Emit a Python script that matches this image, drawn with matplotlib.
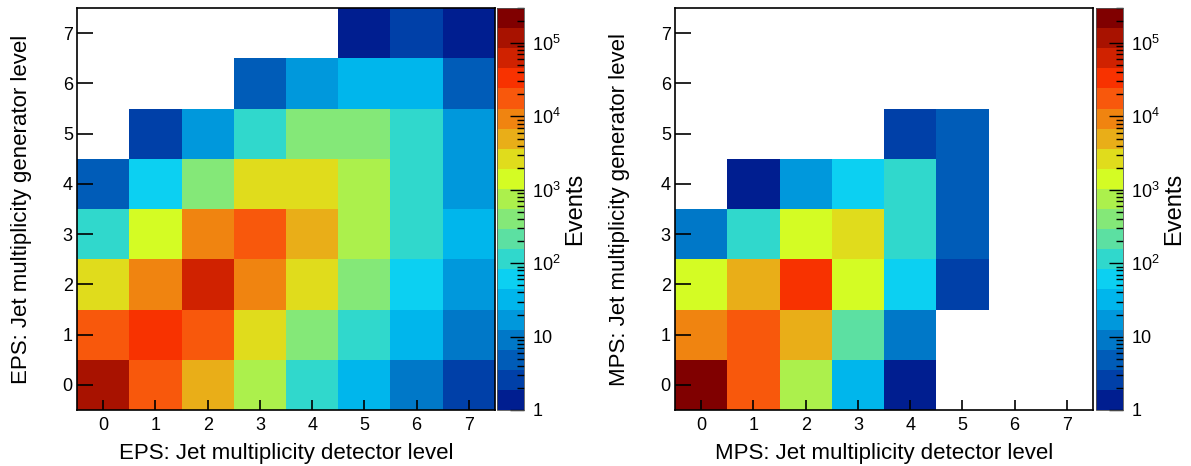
import numpy as np
import matplotlib
matplotlib.use("Agg")
import matplotlib.pyplot as plt
from matplotlib.colors import ListedColormap, LogNorm
from matplotlib.ticker import LogLocator

plt.rcParams['font.family'] = ['Liberation Sans', 'DejaVu Sans']
plt.rcParams['mathtext.fontset'] = 'custom'
plt.rcParams['mathtext.rm'] = 'Liberation Sans'
plt.rcParams['mathtext.it'] = 'Liberation Sans'

# jet multiplicity bins (detector level on x, generator level on y)
n_jets = [0, 1, 2, 3, 4, 5, 6, 7]

# events per cell, rows = generator level 0..7, cols = detector level 0..7
# nan = empty bin
eps_events = [
    [116000, 17500, 4970, 750, 113, 32, 9.1, 2.6],
    [17500, 33000, 17500, 2645, 399, 113, 32, 9.1],
    [2645, 9330, 61800, 9330, 2645, 399, 60, 17],
    [113, 1408, 9330, 17500, 4970, 750, 113, 32],
    [4.8, 60, 399, 2645, 2645, 750, 113, 17],
    [np.nan, 2.6, 17, 113, 399, 399, 113, 17],
    [np.nan, np.nan, np.nan, 4.8, 17, 32, 32, 4.8],
    [np.nan, np.nan, np.nan, np.nan, np.nan, 1.4, 2.6, 1.4],
]
mps_events = [
    [218000, 17500, 750, 32, 1.4, np.nan, np.nan, np.nan],
    [9330, 17500, 4970, 212, 9.1, np.nan, np.nan, np.nan],
    [1408, 4970, 33000, 1408, 60, 2.6, np.nan, np.nan],
    [9.1, 113, 1408, 2645, 113, 4.8, np.nan, np.nan],
    [np.nan, 1.4, 17, 60, 113, 4.8, np.nan, np.nan],
    [np.nan, np.nan, np.nan, np.nan, 2.6, 4.8, np.nan, np.nan],
    [np.nan] * 8,
    [np.nan] * 8,
]

z_min = 1
z_max = 3.0e5
cb_ticks = [1, 10, 1e2, 1e3, 1e4, 1e5]
cb_labels = ['1', '10', '$10^{2}$', '$10^{3}$', '$10^{4}$', '$10^{5}$']

# 20 contour colours, ROOT-like rainbow
palette = ['#001e90', '#0040a8', '#005cb8', '#0078c8', '#0098dc',
           '#00b6ec', '#0cd0f2', '#30d8cc', '#5ce0a2', '#84e878',
           '#acf04c', '#d4fc24', '#e0dc1c', '#e9ae18', '#f08410',
           '#f8580c', '#f83200', '#d02200', '#a81200', '#800000']
cmap = ListedColormap(palette)

W, H = 1191, 466


def draw_panel(fig, box, cbox, vals, name):
    ax = fig.add_axes(box)
    edges = np.arange(-0.5, 8.5, 1.0)
    z = np.ma.masked_invalid(np.array(vals, dtype=float))
    mesh = ax.pcolormesh(edges, edges, z, cmap=cmap, norm=LogNorm(z_min, z_max))
    ax.set_xlim(-0.5, 7.5)
    ax.set_ylim(-0.5, 7.5)
    ax.set_xticks(n_jets)
    ax.set_yticks(n_jets)
    ax.tick_params(axis='x', direction='in', length=7, width=1.2, labelsize=13, pad=5,
                   top=False)
    ax.tick_params(axis='y', direction='in', length=11.5, width=1.2, labelsize=13, pad=3,
                   right=False)
    for s in ax.spines.values():
        s.set_linewidth(1.2)
    ax.set_xlabel(name + ': Jet multiplicity detector level', fontsize=16)
    ax.set_ylabel(name + ': Jet multiplicity generator level', fontsize=16)
    ax.xaxis.set_label_coords(0.5, -0.083)
    ax.yaxis.set_label_coords(-0.108, 0.5)

    # colour bar (palette axis)
    cax = fig.add_axes(cbox)
    cb = fig.colorbar(mesh, cax=cax)
    cb.set_ticks(cb_ticks, labels=cb_labels)
    cax.yaxis.set_minor_locator(LogLocator(base=10, subs=np.arange(2, 10), numticks=20))
    cax.yaxis.set_ticks_position('right')
    cax.tick_params(which='major', direction='in', length=10, width=1, labelsize=13, pad=6)
    cax.tick_params(which='minor', direction='in', length=5, width=1)
    cb.outline.set_linewidth(0.6)
    cb.outline.set_edgecolor('#555555')
    cax.text(2.89, 0.5, 'Events', transform=cax.transAxes, rotation=90,
             ha='center', va='center', fontsize=17)
    return ax


fig = plt.figure(figsize=(W / 100, H / 100), dpi=100)

bottom = 1 - 410 / H
height = 402 / H
draw_panel(fig, [77 / W, bottom, 418 / W, height], [497 / W, bottom, 27 / W, height],
           eps_events, 'EPS')
draw_panel(fig, [675 / W, bottom, 418 / W, height], [1096 / W, bottom, 27 / W, height],
           mps_events, 'MPS')

fig.savefig('out.png', dpi=100)
